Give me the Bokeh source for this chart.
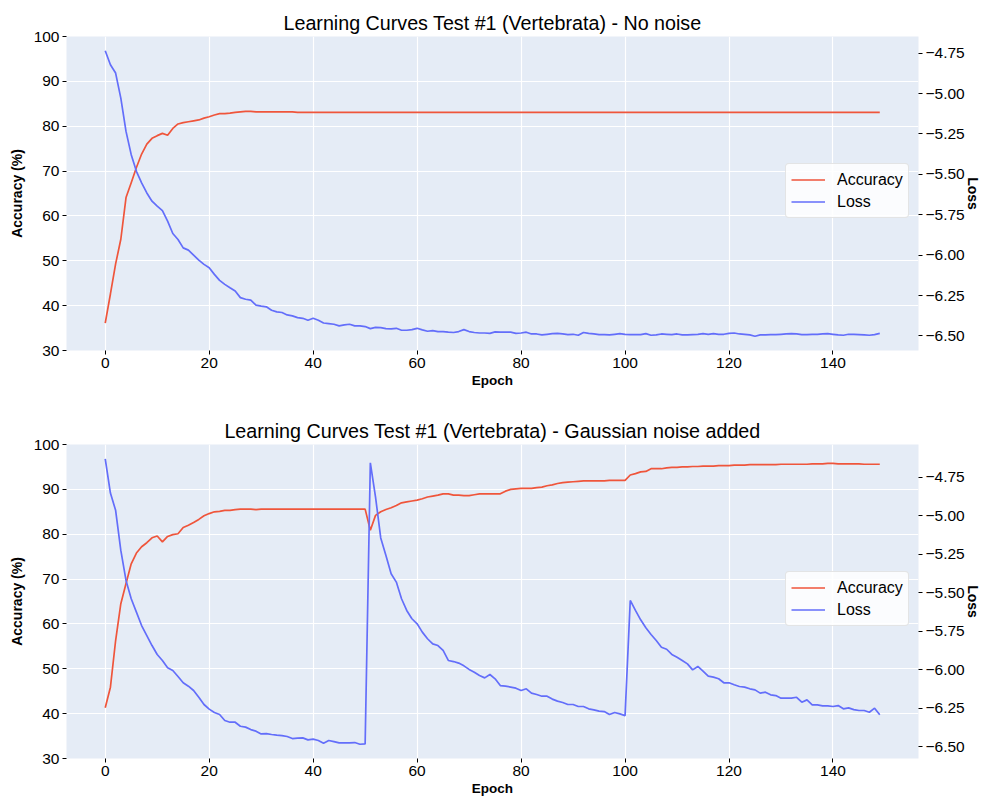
from bokeh.plotting import figure
from bokeh.models import (Range1d, LinearAxis, FixedTicker, CustomJSTickFormatter,
                          Legend, LegendItem)
from bokeh.layouts import column
from bokeh.embed import file_html
from bokeh.resources import INLINE

epochs = list(range(150))

top_acc = [36.1, 42.6, 49.3, 54.8, 64.1, 67.4, 70.8, 73.8, 76.0, 77.3,
           77.9, 78.4, 78.0, 79.5, 80.5, 80.8, 81.0, 81.2, 81.4, 81.8,
           82.1, 82.5, 82.8, 82.8, 82.9, 83.1, 83.2, 83.3, 83.3, 83.2,
           83.2, 83.2, 83.2, 83.2, 83.2, 83.2, 83.2, 83.1, 83.1, 83.1,
           83.1, 83.1, 83.1, 83.1, 83.1, 83.1, 83.1, 83.1, 83.1, 83.1,
           83.1, 83.1, 83.1, 83.1, 83.1, 83.1, 83.1, 83.1, 83.1, 83.1,
           83.1, 83.1, 83.1, 83.1, 83.1, 83.1, 83.1, 83.1, 83.1, 83.1,
           83.1, 83.1, 83.1, 83.1, 83.1, 83.1, 83.1, 83.1, 83.1, 83.1,
           83.1, 83.1, 83.1, 83.1, 83.1, 83.1, 83.1, 83.1, 83.1, 83.1,
           83.1, 83.1, 83.1, 83.1, 83.1, 83.1, 83.1, 83.1, 83.1, 83.1,
           83.1, 83.1, 83.1, 83.1, 83.1, 83.1, 83.1, 83.1, 83.1, 83.1,
           83.1, 83.1, 83.1, 83.1, 83.1, 83.1, 83.1, 83.1, 83.1, 83.1,
           83.1, 83.1, 83.1, 83.1, 83.1, 83.1, 83.1, 83.1, 83.1, 83.1,
           83.1, 83.1, 83.1, 83.1, 83.1, 83.1, 83.1, 83.1, 83.1, 83.1,
           83.1, 83.1, 83.1, 83.1, 83.1, 83.1, 83.1, 83.1, 83.1, 83.1]

top_loss = [-4.735, -4.822, -4.873, -5.028, -5.234, -5.378, -5.481, -5.553, -5.615, -5.666,
            -5.697, -5.724, -5.790, -5.866, -5.903, -5.955, -5.969, -6.000, -6.031, -6.057,
            -6.078, -6.119, -6.156, -6.181, -6.202, -6.222, -6.263, -6.273, -6.279, -6.310,
            -6.316, -6.320, -6.341, -6.351, -6.355, -6.370, -6.376, -6.387, -6.391, -6.403,
            -6.391, -6.403, -6.420, -6.424, -6.428, -6.438, -6.432, -6.428, -6.438, -6.438,
            -6.442, -6.455, -6.447, -6.449, -6.455, -6.457, -6.453, -6.465, -6.465, -6.461,
            -6.453, -6.463, -6.471, -6.467, -6.473, -6.473, -6.477, -6.479, -6.473, -6.461,
            -6.473, -6.479, -6.482, -6.482, -6.484, -6.475, -6.477, -6.477, -6.477, -6.484,
            -6.482, -6.477, -6.488, -6.488, -6.494, -6.490, -6.486, -6.484, -6.488, -6.492,
            -6.490, -6.496, -6.479, -6.484, -6.488, -6.492, -6.492, -6.494, -6.490, -6.486,
            -6.490, -6.492, -6.492, -6.492, -6.486, -6.496, -6.494, -6.488, -6.490, -6.492,
            -6.488, -6.494, -6.494, -6.492, -6.490, -6.486, -6.490, -6.486, -6.490, -6.490,
            -6.484, -6.482, -6.488, -6.490, -6.494, -6.502, -6.494, -6.494, -6.492, -6.492,
            -6.490, -6.488, -6.486, -6.488, -6.492, -6.492, -6.490, -6.490, -6.488, -6.486,
            -6.490, -6.494, -6.496, -6.490, -6.490, -6.492, -6.494, -6.496, -6.492, -6.484]

bot_acc = [41.3, 45.9, 56.3, 64.5, 69.0, 73.4, 75.8, 77.2, 78.1, 79.2,
           79.6, 78.3, 79.5, 79.9, 80.1, 81.5, 82.0, 82.6, 83.3, 84.1,
           84.6, 85.0, 85.1, 85.3, 85.3, 85.5, 85.6, 85.6, 85.6, 85.5,
           85.6, 85.6, 85.6, 85.6, 85.6, 85.6, 85.6, 85.6, 85.6, 85.6,
           85.6, 85.6, 85.6, 85.6, 85.6, 85.6, 85.6, 85.6, 85.6, 85.6,
           85.6, 80.9, 84.2, 85.0, 85.5, 85.9, 86.4, 87.0, 87.2, 87.4,
           87.6, 87.9, 88.3, 88.5, 88.7, 89.0, 89.0, 88.7, 88.7, 88.6,
           88.6, 88.8, 89.0, 89.0, 89.0, 89.0, 89.0, 89.6, 90.0, 90.1,
           90.2, 90.2, 90.2, 90.4, 90.5, 90.8, 91.0, 91.3, 91.5, 91.6,
           91.7, 91.8, 91.9, 91.9, 91.9, 91.9, 91.9, 92.0, 92.0, 92.0,
           92.0, 93.2, 93.5, 93.9, 94.0, 94.6, 94.6, 94.6, 94.8, 94.9,
           94.9, 95.0, 95.0, 95.1, 95.1, 95.2, 95.2, 95.2, 95.3, 95.3,
           95.3, 95.4, 95.4, 95.4, 95.5, 95.5, 95.5, 95.5, 95.5, 95.5,
           95.6, 95.6, 95.6, 95.6, 95.6, 95.6, 95.7, 95.7, 95.7, 95.8,
           95.8, 95.7, 95.7, 95.7, 95.7, 95.7, 95.6, 95.6, 95.6, 95.6]

bot_loss = [-4.631, -4.854, -4.966, -5.226, -5.421, -5.540, -5.627, -5.714, -5.779, -5.844,
            -5.902, -5.941, -5.989, -6.006, -6.045, -6.086, -6.108, -6.136, -6.180, -6.227,
            -6.257, -6.279, -6.292, -6.331, -6.342, -6.342, -6.368, -6.374, -6.390, -6.400,
            -6.418, -6.416, -6.422, -6.426, -6.429, -6.435, -6.448, -6.446, -6.444, -6.457,
            -6.452, -6.461, -6.478, -6.461, -6.468, -6.476, -6.476, -6.476, -6.474, -6.485,
            -6.483, -4.657, -4.880, -5.145, -5.259, -5.378, -5.432, -5.540, -5.616, -5.670,
            -5.703, -5.757, -5.800, -5.833, -5.844, -5.876, -5.941, -5.948, -5.958, -5.976,
            -5.999, -6.017, -6.039, -6.054, -6.032, -6.060, -6.104, -6.108, -6.114, -6.121,
            -6.136, -6.125, -6.153, -6.162, -6.173, -6.173, -6.192, -6.205, -6.214, -6.227,
            -6.227, -6.240, -6.240, -6.255, -6.262, -6.270, -6.273, -6.292, -6.279, -6.288,
            -6.299, -5.551, -5.616, -5.677, -5.729, -5.772, -5.811, -5.855, -5.868, -5.902,
            -5.920, -5.941, -5.963, -6.002, -5.980, -6.010, -6.043, -6.049, -6.060, -6.086,
            -6.086, -6.099, -6.110, -6.114, -6.125, -6.132, -6.153, -6.147, -6.164, -6.169,
            -6.186, -6.186, -6.186, -6.180, -6.212, -6.197, -6.229, -6.229, -6.236, -6.236,
            -6.240, -6.234, -6.255, -6.249, -6.260, -6.266, -6.266, -6.277, -6.251, -6.294]

acc_ticks = [30, 40, 50, 60, 70, 80, 90, 100]
loss_ticks = [-6.5, -6.25, -6.0, -5.75, -5.5, -5.25, -5.0, -4.75]
epoch_ticks = [0, 20, 40, 60, 80, 100, 120, 140]

titles = ["Learning Curves Test #1 (Vertebrata) - No noise",
          "Learning Curves Test #1 (Vertebrata) - Gaussian noise added"]

FONT = "Liberation Sans"
BG = "#E5ECF6"
RED = "#EF553B"
BLUE = "#636EFA"
TICK_FS = "15.5px"


def style_axis(ax, label_fs="14px"):
    ax.axis_line_color = None
    ax.major_tick_line_color = "black"
    ax.major_tick_out = 4
    ax.major_tick_in = 0
    ax.minor_tick_line_color = None
    ax.major_label_text_font = FONT
    ax.major_label_text_font_size = TICK_FS
    ax.major_label_text_color = "black"
    ax.major_label_standoff = 3
    ax.axis_label_text_font = FONT
    ax.axis_label_text_font_size = label_fs
    ax.axis_label_text_font_style = "bold"
    ax.axis_label_text_color = "black"


def make(title, acc, loss, height, b_top, b_bottom, leg_y, t_standoff):
    xpad = 0.05 * (max(epochs) - min(epochs))
    lo, hi = min(loss), max(loss)
    pad = 0.05 * (hi - lo)
    p = figure(width=983, height=height, output_backend="svg", toolbar_location=None,
               x_range=Range1d(min(epochs) - xpad, max(epochs) + xpad),
               y_range=Range1d(acc_ticks[0], acc_ticks[-1]),
               min_border_left=66, min_border_right=65,
               min_border_top=b_top, min_border_bottom=b_bottom,
               background_fill_color=BG, border_fill_color="white",
               outline_line_color=None, title=title)
    p.title.align = "center"
    p.title.text_font = FONT
    p.title.text_font_size = "19.7px"
    p.title.text_font_style = "normal"
    p.title.text_color = "black"
    p.title.standoff = t_standoff

    p.extra_y_ranges = {"loss": Range1d(lo - pad, hi + pad)}

    xax = p.below[0]
    yax = p.left[0]
    xax.ticker = FixedTicker(ticks=epoch_ticks)
    yax.ticker = FixedTicker(ticks=acc_ticks)
    xax.axis_label = "Epoch"
    yax.axis_label = "Accuracy (%)"
    style_axis(xax, "13.5px")
    style_axis(yax, "14px")
    xax.axis_label_standoff = 2
    yax.axis_label_standoff = 6

    rax = LinearAxis(y_range_name="loss", axis_label="Loss",
                     ticker=FixedTicker(ticks=loss_ticks),
                     formatter=CustomJSTickFormatter(
                         code="return tick.toFixed(2).replace('-', '\\u2212');"))
    style_axis(rax, "14px")
    rax.axis_label_standoff = -3
    rax.major_label_standoff = 3
    p.add_layout(rax, "right")

    p.xgrid.ticker = FixedTicker(ticks=epoch_ticks)
    p.ygrid.ticker = FixedTicker(ticks=acc_ticks)
    p.xgrid.grid_line_color = "white"
    p.ygrid.grid_line_color = "white"
    p.xgrid.grid_line_width = 1.2
    p.ygrid.grid_line_width = 1.2

    r1 = p.line(epochs, acc, line_color=RED, line_width=1.7)
    r2 = p.line(epochs, loss, line_color=BLUE, line_width=1.7, y_range_name="loss")

    leg = Legend(items=[LegendItem(label="Accuracy", renderers=[r1]),
                        LegendItem(label="Loss", renderers=[r2])],
                 location=(719, leg_y))
    leg.label_text_font = FONT
    leg.label_text_font_size = "16px"
    leg.label_text_color = "black"
    leg.padding = 5
    leg.spacing = 1
    leg.glyph_width = 34
    leg.glyph_height = 21
    leg.label_height = 21
    leg.label_standoff = 12
    leg.background_fill_color = "white"
    leg.background_fill_alpha = 0.85
    leg.border_line_color = "#cccccc"
    leg.border_line_width = 1
    leg.margin = 0
    try:
        leg.border_radius = 4
    except Exception:
        pass
    p.add_layout(leg)
    return p


p1 = make(titles[0], top_acc, top_loss, 412, 36, 62, 132, 6)
p2 = make(titles[1], bot_acc, bot_loss, 386, 32, 40, 132, 5)

layout = column(p1, p2, spacing=0)
open("out.html", "w").write(file_html(layout, INLINE))
